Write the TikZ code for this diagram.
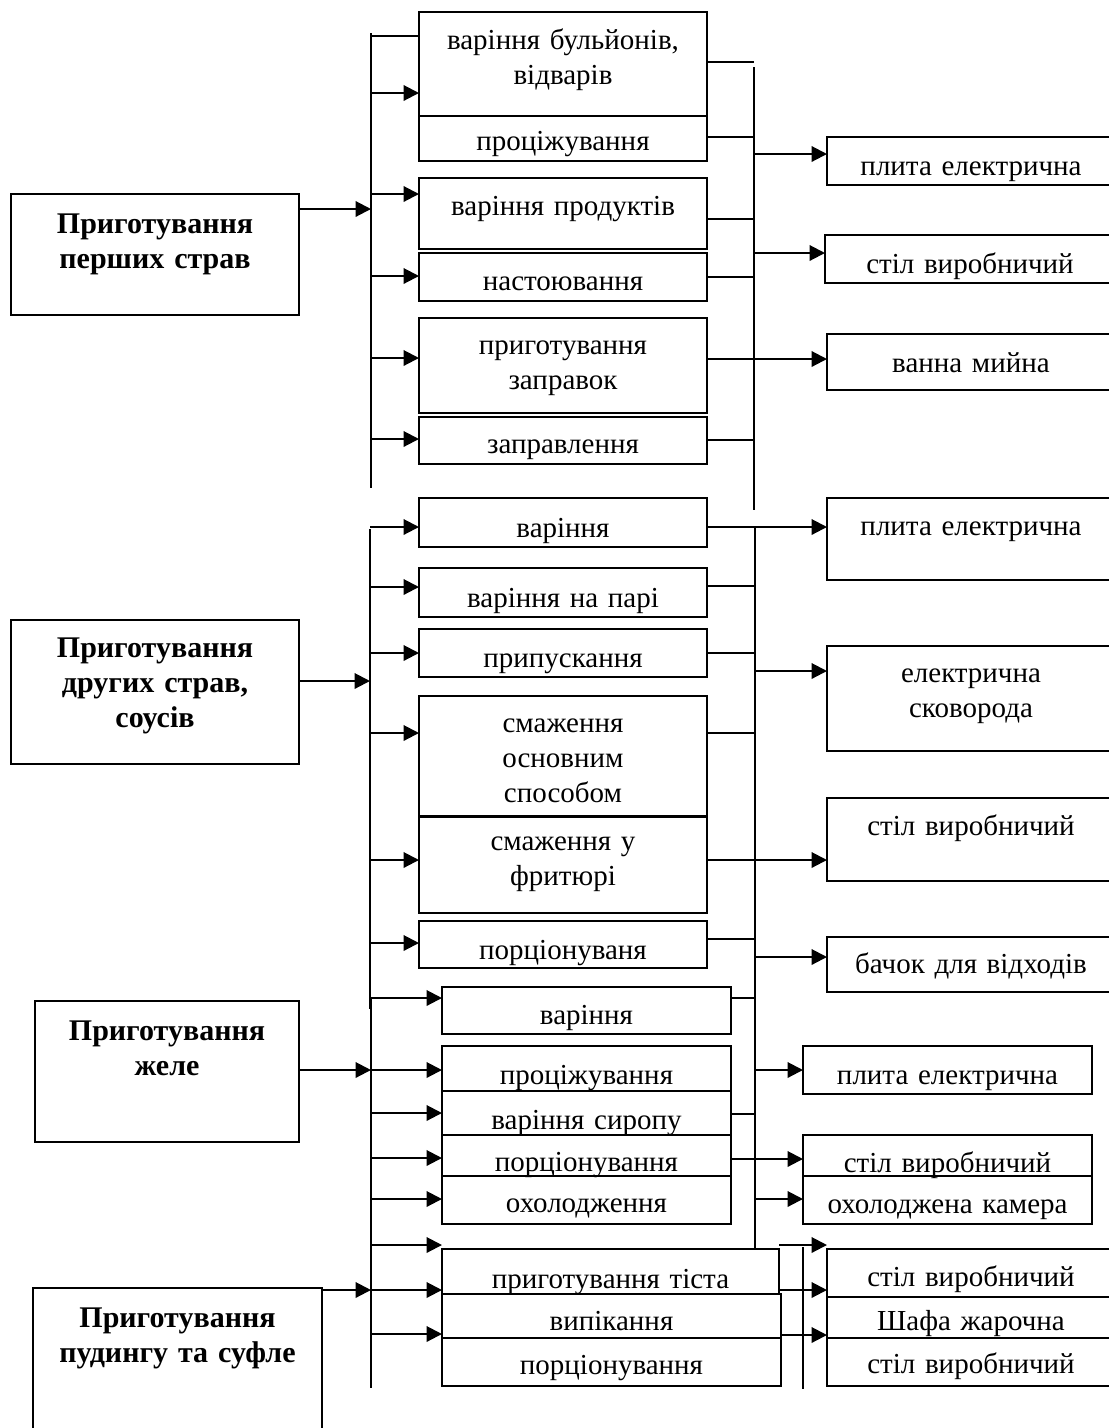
\documentclass[tikz,border=0pt]{standalone}
\usepackage{fontspec}
\setmainfont{Liberation Serif}
\usepackage{tikz}
\usetikzlibrary{arrows.meta,calc}

% box from corner (x1,y1) to (x2,y2), first baseline at yb (all in px)
\newcommand{\mkbox}[8][blk]{%
  \pgfmathsetmacro{\bw}{(#5-#3)*0.4}%
  \pgfmathsetmacro{\bh}{(#7-#4)*0.4}%
  \pgfmathsetmacro{\bd}{(#6-#7)*0.4}%
  \node[#1, text width=\bw pt, text height=\bh pt, text depth=\bd pt] (#2) at (#3,#4) {#8};}

\tikzset{
  blk/.style={draw, line width=0.8pt, inner sep=0pt, outer sep=0pt, anchor=north west,
    align=center, font=\fontsize{11.6}{14}\selectfont},
  hd/.style={blk, font=\bfseries\fontsize{12}{14}\selectfont},
  bus/.style={line width=0.8pt},
  conn/.style={line width=0.55pt},
  arr/.style={line width=0.85pt, -{Triangle[length=6.2pt,width=6.2pt]}}
}

\begin{document}
\begin{tikzpicture}[x=0.4pt, y=-0.4pt]
  \useasboundingbox (0,0) rectangle (1108,1428);

  % Bus lines
  \coordinate (lb1t) at (371,33);   \coordinate (lb1b) at (371,488);
  \coordinate (lb2t) at (370,529);  \coordinate (lb2b) at (370,1009);
  \coordinate (lb3t) at (371,998);  \coordinate (lb3b) at (371,1388);
  \coordinate (rb1t) at (754,67);   \coordinate (rb1b) at (754,510);
  \coordinate (rb2t) at (755,527);  \coordinate (rb2b) at (755,1248);
  \coordinate (rb3t) at (803,1247); \coordinate (rb3b) at (803,1389);
  \foreach \b in {lb1,lb2,lb3,rb1,rb2,rb3}
    \draw[bus] (\b t) -- (\b b);

  % Перші страви
  \mkbox[hd]{g1}{11}{194}{299}{315}{233}{Приготування\\ перших страв}
  \mkbox{m11}{419}{12}{707}{116}{49}{варіння бульйонів,\\ відварів}
  \mkbox{m12}{419}{116}{707}{161}{150}{проціжування}
  \mkbox{m13}{419}{178}{707}{249}{215}{варіння продуктів}
  \mkbox{m14}{419}{253}{707}{301}{290}{настоювання}
  \mkbox{m15}{419}{318}{707}{413}{354}{приготування\\ заправок}
  \mkbox{m16}{419}{417}{707}{464}{453}{заправлення}
  \mkbox{r11}{827}{137}{1115}{185}{175}{плита електрична}
  \mkbox{r12}{825}{235}{1115}{283}{273}{стіл виробничий}
  \mkbox{r13}{827}{334}{1115}{390}{372}{ванна мийна}

  \draw[arr] (g1.east |- 0,209) -- (lb1t |- 0,209);
  \draw[conn] (lb1t |- 0,36) -- (m11.west |- 0,36);
  \foreach \y/\n in {93/m11,194/m13,276/m14,358/m15,439/m16}
    \draw[arr] (lb1t |- 0,\y) -- (\n.west |- 0,\y);
  \foreach \y/\n in {62/m11,137/m12,219/m13,277/m14,440/m16}
    \draw[conn] (\n.east |- 0,\y) -- (rb1t |- 0,\y);
  \draw[arr] (m15.east |- 0,359) -- (r13.west |- 0,359);
  \draw[arr] (rb1t |- 0,154) -- (r11.west |- 0,154);
  \draw[arr] (rb1t |- 0,253) -- (r12.west |- 0,253);

  % Другі страви, соуси
  \mkbox[hd]{g2}{11}{620}{299}{764}{657}{Приготування\\ других страв,\\ соусів}
  \mkbox{m21}{419}{498}{707}{547}{537}{варіння}
  \mkbox{m22}{419}{568}{707}{617}{607}{варіння на парі}
  \mkbox{m23}{419}{629}{707}{677}{667}{припускання}
  \mkbox{m24}{419}{696}{707}{816}{732}{смаження\\ основним\\ способом}
  \mkbox{m25}{419}{817}{707}{913}{850}{смаження у\\ фритюрі}
  \mkbox{m26}{419}{921}{707}{968}{959}{порціонуваня}
  \mkbox{r21}{827}{498}{1115}{580}{535}{плита електрична}
  \mkbox{r22}{827}{646}{1115}{751}{682}{електрична\\ сковорода}
  \mkbox{r23}{827}{798}{1115}{881}{835}{стіл виробничий}
  \mkbox{r24}{827}{937}{1115}{992}{973}{бачок для відходів}

  \draw[arr] (g2.east |- 0,681) -- (lb2t |- 0,681);
  \foreach \y/\n in {527/m21,587/m22,653/m23,733/m24,860/m25,943/m26}
    \draw[arr] (lb2t |- 0,\y) -- (\n.west |- 0,\y);
  \foreach \y/\n in {586/m22,653/m23,733/m24,939/m26}
    \draw[conn] (\n.east |- 0,\y) -- (rb2t |- 0,\y);
  \draw[arr] (m21.east |- 0,527) -- (r21.west |- 0,527);
  \draw[arr] (m25.east |- 0,860) -- (r23.west |- 0,860);
  \draw[arr] (rb2t |- 0,671) -- (r22.west |- 0,671);
  \draw[arr] (rb2t |- 0,957) -- (r24.west |- 0,957);

  % Желе
  \mkbox[hd]{g3}{35}{1001}{299}{1142}{1040}{Приготування\\ желе}
  \mkbox{m31}{442}{987}{731}{1034}{1024}{варіння}
  \mkbox{m32}{442}{1046}{731}{1091}{1084}{проціжування}
  \mkbox{m33}{442}{1091}{731}{1135}{1129}{варіння сиропу}
  \mkbox{m34}{442}{1135}{731}{1176}{1171}{порціонування}
  \mkbox{m35}{442}{1176}{731}{1224}{1212}{охолодження}
  \mkbox{r31}{803}{1046}{1092}{1094}{1084}{плита електрична}
  \mkbox{r32}{803}{1135}{1092}{1176}{1172}{стіл виробничий}
  \mkbox{r33}{803}{1176}{1092}{1224}{1213}{охолоджена камера}

  \draw[arr] (g3.east |- 0,1070) -- (lb3t |- 0,1070);
  \foreach \y/\n in {998/m31,1070/m32,1113/m33,1158/m34,1199/m35}
    \draw[arr] (lb3t |- 0,\y) -- (\n.west |- 0,\y);
  \foreach \y/\n in {998/m31,1114/m33}
    \draw[conn] (\n.east |- 0,\y) -- (rb2t |- 0,\y);
  \draw[arr] (m34.east |- 0,1159) -- (r32.west |- 0,1159);
  \draw[arr] (rb2t |- 0,1070) -- (r31.west |- 0,1070);
  \draw[arr] (rb2t |- 0,1199) -- (r33.west |- 0,1199);

  % Пудинг та суфле
  \mkbox[hd]{g4}{33}{1288}{322}{1440}{1327}{Приготування\\ пудингу та суфле}
  \mkbox{m41}{442}{1249}{779}{1294}{1288}{приготування тіста}
  \mkbox{m42}{442}{1294}{781}{1338}{1330}{випікання}
  \mkbox{m43}{442}{1338}{781}{1386}{1374}{порціонування}
  \mkbox{r41}{827}{1249}{1115}{1297}{1286}{стіл виробничий}
  \mkbox{r42}{827}{1297}{1115}{1338}{1330}{Шафа жарочна}
  \mkbox{r43}{827}{1338}{1115}{1386}{1373}{стіл виробничий}

  \draw[arr] (g4.east |- 0,1290) -- (lb3t |- 0,1290);
  \foreach \y/\n in {1245/m41,1290/m41,1334/m42}
    \draw[arr] (lb3t |- 0,\y) -- (\n.west |- 0,\y);
  \draw[arr] (m41.east |- 0,1245) -- (r41.west |- 0,1245);
  \draw[arr] (m41.east |- 0,1290) -- (r41.west |- 0,1290);
  \draw[arr] (m42.east |- 0,1335) -- (r42.west |- 0,1335);

\end{tikzpicture}
\end{document}
